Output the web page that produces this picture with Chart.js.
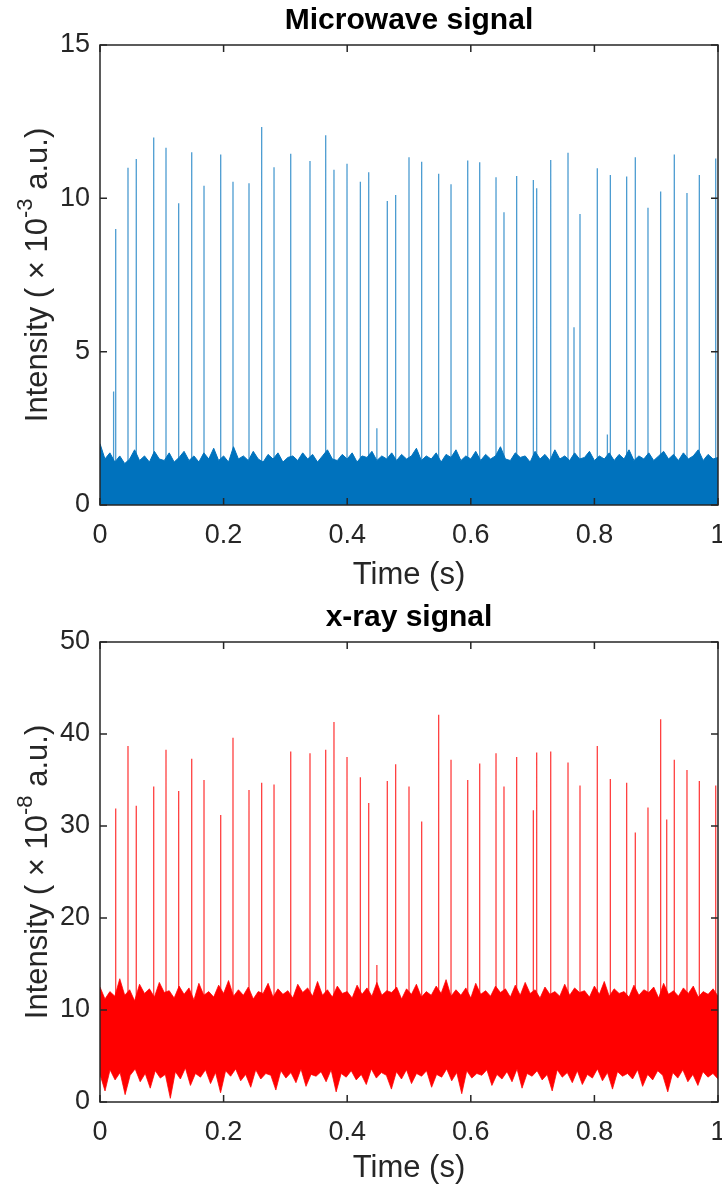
<!DOCTYPE html>
<html>
<head>
<meta charset="utf-8">
<script src="https://cdn.jsdelivr.net/npm/chart.js@4.4.1/dist/chart.umd.min.js"></script>
<style>
  body { margin: 0; background: #fff; }
  #wrap { position: relative; width: 722px; height: 1187px; }
  canvas { position: absolute; left: 0; }
</style>
</head>
<body>
<div id="wrap">
  <canvas id="micChart" width="722" height="593" style="top:0px"></canvas>
  <canvas id="xrayChart" width="722" height="594" style="top:593px"></canvas>
</div>
<script>
// ---- data ----
// microwave spikes (time in s, peak in 1e-3 a.u.)
const micSpikeTimes = [0.022, 0.0254, 0.0453, 0.0587, 0.0869, 0.1068, 0.1273, 0.1484, 0.1683, 0.1953,
  0.2152, 0.2411, 0.2616, 0.2816, 0.3086, 0.3398, 0.3652, 0.3786, 0.3997, 0.4213,
  0.4348, 0.448, 0.4649, 0.4784, 0.5, 0.5205, 0.548, 0.568, 0.595, 0.6144,
  0.6408, 0.6537, 0.6742, 0.7012, 0.7066, 0.7293, 0.7573, 0.767, 0.7767, 0.8047,
  0.821, 0.8258, 0.8522, 0.8662, 0.8867, 0.9072, 0.9293, 0.9498, 0.9698, 0.9963];
const micSpikePeaks = [3.7, 9.0, 11.0, 11.28, 11.98, 11.65, 9.84, 11.5, 10.41, 11.43,
  10.54, 10.49, 12.33, 11.01, 11.45, 11.22, 12.06, 10.93, 11.13, 10.54,
  10.85, 2.5, 9.91, 10.11, 11.34, 11.19, 10.8, 10.46, 11.23, 11.18,
  10.69, 9.55, 10.73, 10.6, 10.33, 11.25, 11.49, 5.8, 9.49, 10.98,
  2.3, 10.76, 10.71, 11.34, 9.69, 10.22, 11.43, 10.17, 10.76, 11.3];
// upper edge of the microwave noise floor, evenly spaced over 0..1 s
const micNoise = [2.0, 1.5, 1.7, 1.4, 1.6, 1.35, 1.5, 1.8, 1.45, 1.6, 1.4, 1.75, 1.5, 1.45, 1.7, 1.4,
  1.55, 1.75, 1.45, 1.6, 1.4, 1.7, 1.5, 1.85, 1.45, 1.6, 1.4, 1.9, 1.5, 1.6, 1.45, 1.75,
  1.5, 1.4, 1.65, 1.5, 1.7, 1.4, 1.55, 1.6, 1.45, 1.7, 1.5, 1.65, 1.4, 1.6, 1.8, 1.5,
  1.45, 1.65, 1.5, 1.7, 1.4, 1.6, 1.55, 1.75, 1.45, 1.6, 1.5, 1.7, 1.45, 1.65, 1.5, 1.6,
  1.85, 1.45, 1.6, 1.5, 1.7, 1.4, 1.65, 1.55, 1.8, 1.45, 1.6, 1.5, 1.75, 1.45, 1.65, 1.5,
  1.6, 1.9, 1.5, 1.45, 1.7, 1.55, 1.6, 1.4, 1.75, 1.5, 1.65, 1.45, 1.8, 1.5, 1.6, 1.45,
  1.7, 1.5, 1.55, 1.75, 1.45, 1.6, 1.5, 1.7, 1.45, 1.65, 1.5, 1.8, 1.45, 1.6, 1.5, 1.7,
  1.45, 1.6, 1.75, 1.5, 1.65, 1.45, 1.7, 1.5, 1.6, 1.8, 1.45, 1.65, 1.5, 1.55];

// x-ray spikes (time in s, peak in 1e-8 a.u.)
const xraySpikeTimes = [0.0254, 0.0453, 0.0587, 0.0869, 0.1068, 0.1273, 0.1484, 0.1683, 0.1953, 0.2152,
  0.2411, 0.2616, 0.2816, 0.3086, 0.3398, 0.3652, 0.3786, 0.3997, 0.4213, 0.4348,
  0.448, 0.4649, 0.4784, 0.5, 0.5205, 0.548, 0.568, 0.595, 0.6144, 0.6408,
  0.6537, 0.6742, 0.7012, 0.7066, 0.7293, 0.7573, 0.7767, 0.8047, 0.8258, 0.8522,
  0.8662, 0.8867, 0.9072, 0.917, 0.9293, 0.9498, 0.9698, 0.9963];
const xraySpikePeaks = [31.9, 38.7, 32.2, 34.3, 38.3, 33.8, 37.3, 35.0, 31.2, 39.6,
  33.9, 34.7, 34.5, 38.1, 37.9, 38.3, 41.3, 37.5, 35.3, 32.5,
  14.9, 34.9, 36.7, 34.3, 30.5, 42.1, 37.2, 35.0, 36.8, 37.9,
  34.3, 37.5, 31.7, 38.0, 38.1, 36.9, 34.4, 38.7, 35.1, 34.7,
  29.3, 32.0, 41.6, 30.7, 37.2, 36.1, 34.9, 34.4];
// top and bottom edges of the x-ray noise band
const xrayHigh = [12.5, 11.2, 12.0, 11.5, 13.4, 11.6, 12.2, 11.0, 12.8, 11.8, 12.3, 11.4, 13.0, 11.9, 12.1, 11.3,
  12.6, 11.7, 12.4, 11.1, 12.9, 11.6, 12.0, 11.4, 12.7, 11.8, 13.2, 11.5, 12.2, 11.6, 12.5, 11.2,
  12.0, 11.8, 12.9, 11.4, 12.3, 11.7, 12.1, 11.3, 12.8, 11.9, 12.4, 11.5, 13.1, 11.6, 12.2, 11.4,
  12.6, 11.8, 12.0, 11.3, 12.7, 11.7, 12.4, 11.5, 13.0, 11.6, 12.1, 11.9, 12.5, 11.2, 12.3, 11.7,
  12.8, 11.4, 12.0, 11.6, 12.6, 11.8, 13.3, 11.5, 12.2, 11.6, 12.4, 11.3, 12.9, 11.7, 12.1, 11.5,
  12.6, 11.9, 12.3, 11.4, 12.7, 11.6, 13.0, 11.8, 12.2, 11.3, 12.5, 11.7, 12.0, 11.5, 12.8, 11.6,
  12.4, 11.9, 12.1, 11.4, 12.6, 11.7, 13.1, 11.5, 12.3, 11.8, 12.0, 11.4, 12.7, 11.6, 12.2, 11.9,
  12.5, 11.3, 12.9, 11.7, 12.1, 11.5, 12.4, 11.8, 12.6, 11.4, 12.0, 11.7, 12.3, 11.5];
const xrayLow = [3.0, 1.2, 3.5, 2.4, 3.2, 0.8, 2.9, 3.6, 2.2, 3.1, 1.5, 3.4, 2.6, 3.0, 0.4, 3.3,
  2.5, 3.7, 1.8, 3.1, 2.7, 3.5, 2.0, 3.2, 1.0, 3.4, 2.8, 3.6, 2.3, 3.0, 1.6, 3.5,
  2.5, 3.1, 2.9, 1.3, 3.4, 2.6, 3.2, 2.1, 3.6, 1.7, 3.0, 2.8, 3.3, 2.2, 3.5, 1.1,
  3.1, 2.7, 3.4, 2.4, 3.0, 1.9, 3.6, 2.6, 3.2, 2.9, 1.4, 3.3, 2.5, 3.5, 2.0, 3.1,
  2.8, 3.4, 1.6, 3.0, 2.7, 3.6, 2.3, 3.2, 0.9, 3.4, 2.6, 3.1, 2.9, 3.5, 1.8, 3.0,
  2.5, 3.3, 2.2, 3.6, 1.5, 3.1, 2.8, 3.4, 2.4, 3.0, 1.2, 3.5, 2.7, 3.2, 2.1, 3.4,
  1.9, 3.0, 2.6, 3.6, 2.3, 3.2, 1.4, 3.3, 2.8, 3.1, 2.5, 3.5, 1.7, 3.0, 2.4, 3.4,
  2.9, 1.1, 3.2, 2.6, 3.5, 2.2, 3.0, 1.8, 3.3, 2.7, 3.1, 2.5];
const xraySpikeBase = 7;

const FONT = '"Liberation Sans", Arial, Helvetica, sans-serif';
const AXIS_COLOR = '#262626';

function spikePoints(times, peaks, base) {
  const pts = [];
  times.forEach((t, i) => {
    pts.push({x: t, y: base}, {x: t, y: peaks[i]}, {x: t, y: null});
  });
  return pts;
}

function evenPoints(arr) {
  return arr.map((v, i) => ({x: i / (arr.length - 1), y: v}));
}

// matlab-ish box with inward ticks, titles and labels
const boxPlugin = {
  id: 'boxPlugin',
  afterDraw(chart, args, opts) {
    const ctx = chart.ctx;
    const a = chart.chartArea;
    const xs = chart.scales.x, ys = chart.scales.y;
    ctx.save();
    ctx.strokeStyle = AXIS_COLOR;
    ctx.lineWidth = 1.5;
    ctx.strokeRect(a.left, a.top, a.right - a.left, a.bottom - a.top);
    const tl = 7;
    ctx.beginPath();
    xs.ticks.forEach(t => {
      const px = xs.getPixelForValue(t.value);
      ctx.moveTo(px, a.bottom); ctx.lineTo(px, a.bottom - tl);
      ctx.moveTo(px, a.top); ctx.lineTo(px, a.top + tl);
    });
    ys.ticks.forEach(t => {
      const py = ys.getPixelForValue(t.value);
      ctx.moveTo(a.left, py); ctx.lineTo(a.left + tl, py);
      ctx.moveTo(a.right, py); ctx.lineTo(a.right - tl, py);
    });
    ctx.stroke();

    const cx = (a.left + a.right) / 2;
    ctx.textAlign = 'center';
    ctx.textBaseline = 'middle';
    ctx.fillStyle = '#000';
    ctx.font = 'bold 30px ' + FONT;
    ctx.fillText(opts.title, cx, opts.titleY);

    ctx.fillStyle = AXIS_COLOR;
    ctx.font = '31px ' + FONT;
    ctx.fillText('Time (s)', cx, opts.xLabelY);

    // y label with superscript exponent
    ctx.translate(opts.yLabelX, (a.top + a.bottom) / 2);
    ctx.rotate(-Math.PI / 2);
    const p1 = 'Intensity ( \u00d7 10', p2 = ' a.u.)';
    const big = '31px ' + FONT, small = '22px ' + FONT;
    ctx.font = big;
    const w1 = ctx.measureText(p1).width, w3 = ctx.measureText(p2).width;
    ctx.font = small;
    const w2 = ctx.measureText(opts.exp).width;
    let x = -(w1 + w2 + w3) / 2;
    ctx.textAlign = 'left';
    ctx.font = big;
    ctx.fillText(p1, x, 0);
    x += w1;
    ctx.font = small;
    ctx.fillText(opts.exp, x, -12);
    x += w2;
    ctx.font = big;
    ctx.fillText(p2, x, 0);
    ctx.restore();
  }
};

function makeOptions(yMax, yStep, padTop, xHeight, texts) {
  return {
    responsive: false,
    animation: false,
    events: [],
    layout: {autoPadding: false, padding: {top: padTop, left: 0, right: 4, bottom: 0}},
    elements: {point: {radius: 0}, line: {tension: 0}},
    plugins: {
      legend: {display: false},
      tooltip: {enabled: false},
      title: {display: false},
      boxPlugin: texts
    },
    scales: {
      x: {
        type: 'linear', min: 0, max: 1,
        grid: {display: false, drawTicks: false},
        border: {display: false},
        ticks: {
          stepSize: 0.2, padding: 14, color: AXIS_COLOR, font: {family: FONT, size: 27}, maxRotation: 0,
          callback: v => String(+v.toFixed(1))
        },
        afterFit(s) {
          s.height = xHeight;
          s.paddingLeft = 0;
          s.paddingRight = 0;
        }
      },
      y: {
        type: 'linear', min: 0, max: yMax,
        grid: {display: false, drawTicks: false},
        border: {display: false},
        ticks: {stepSize: yStep, padding: 10, color: AXIS_COLOR, font: {family: FONT, size: 27}},
        afterFit(s) {
          s.width = 100;
          s.paddingTop = 0;
          s.paddingBottom = 0;
        }
      }
    }
  };
}

new Chart(document.getElementById('micChart'), {
  type: 'line',
  data: {
    datasets: [
      {
        data: evenPoints(micNoise),
        borderColor: '#0072BD', borderWidth: 1,
        backgroundColor: '#0072BD', fill: 'origin', order: 0
      },
      {
        data: spikePoints(micSpikeTimes, micSpikePeaks, 0),
        borderColor: 'rgba(0,114,189,0.7)', borderWidth: 1.3,
        fill: false, spanGaps: false, order: 1
      }
    ]
  },
  options: makeOptions(15, 5, 45, 88, {title: 'Microwave signal', titleY: 21, xLabelY: 575, yLabelX: 38, exp: '-3'}),
  plugins: [boxPlugin]
});

new Chart(document.getElementById('xrayChart'), {
  type: 'line',
  data: {
    datasets: [
      {
        data: evenPoints(xrayHigh),
        borderColor: 'rgba(255,0,0,0.75)', borderWidth: 1,
        backgroundColor: '#ff0000', fill: '+1', order: 0
      },
      {
        data: evenPoints(xrayLow),
        borderColor: 'rgba(255,0,0,0.75)', borderWidth: 1,
        fill: false, order: 0
      },
      {
        data: spikePoints(xraySpikeTimes, xraySpikePeaks, xraySpikeBase),
        borderColor: 'rgba(255,0,0,0.75)', borderWidth: 1.3,
        fill: false, spanGaps: false, order: 1
      }
    ]
  },
  options: makeOptions(50, 10, 49, 85, {title: 'x-ray signal', titleY: 25, xLabelY: 575, yLabelX: 38, exp: '-8'}),
  plugins: [boxPlugin]
});
</script>
</body>
</html>
